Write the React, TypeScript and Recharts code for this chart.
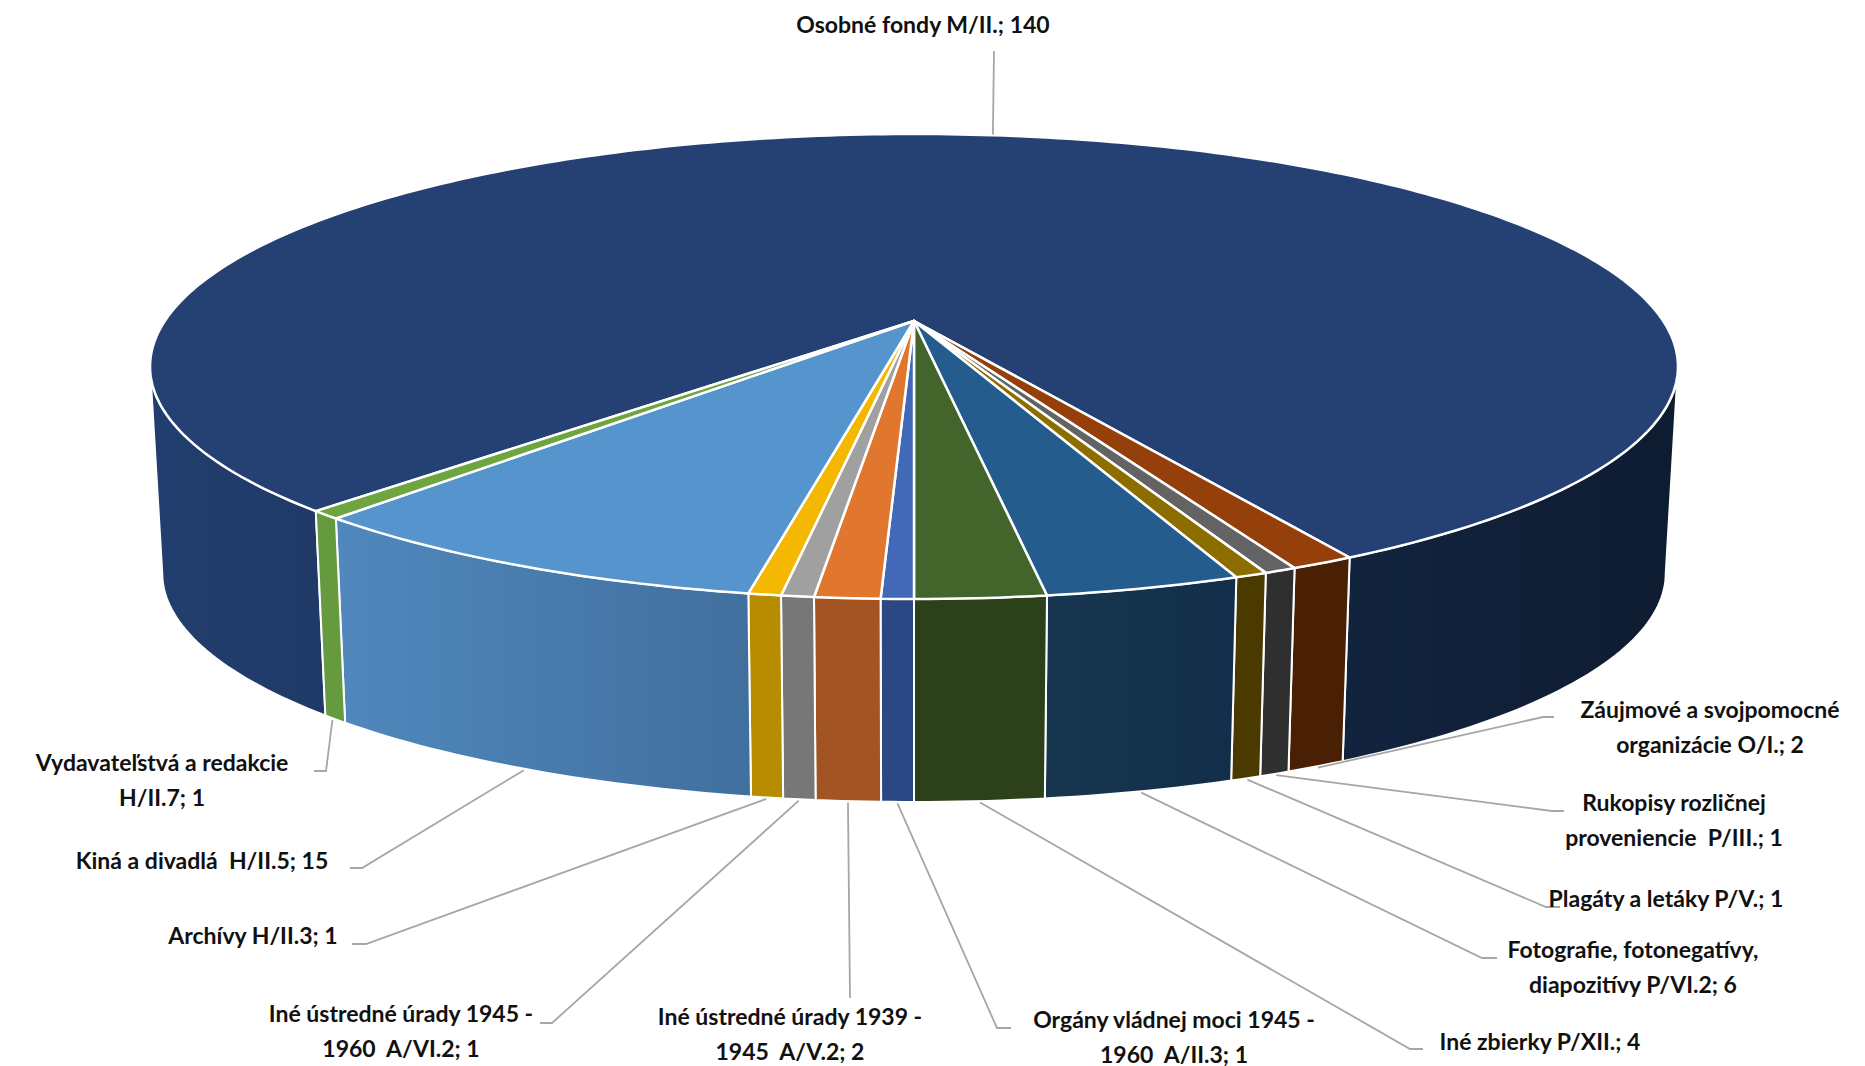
import React from "react";
import { PieChart, Pie } from "recharts";

// names carry their line break, the value is appended on the last line
const categories = [
  "Osobné fondy M/II.",
  "Záujmové a svojpomocné\norganizácie O/I.",
  "Rukopisy rozličnej\nproveniencie  P/III.",
  "Plagáty a letáky P/V.",
  "Fotografie, fotonegatívy,\ndiapozitívy P/VI.2",
  "Iné zbierky P/XII.",
  "Orgány vládnej moci 1945 -\n1960  A/II.3",
  "Iné ústredné úrady 1939 -\n1945  A/V.2",
  "Iné ústredné úrady 1945 -\n1960  A/VI.2",
  "Archívy H/II.3",
  "Kiná a divadlá  H/II.5",
  "Vydavateľstvá a redakcie\nH/II.7",
];
const values = [140, 2, 1, 1, 6, 4, 1, 2, 1, 1, 15, 1];

const chartData = categories.map((name, i) => ({ name, value: values[i] }));

const topColors = ["#254173", "#953f0b", "#636363", "#8c6d00", "#255c8e", "#43652b", "#4169b8", "#e1762e", "#a0a0a0", "#f4b800", "#5594cc", "#6ea540"];
const wallFrom = ["#223e6e", "#4a2005", "#303030", "#4a3a00", "#17364f", "#2c4019", "#2b4885", "#a25522", "#777777", "#b88c00", "#5088bd", "#669a3f"];
const wallTo = ["#0e1c31", "#4a2005", "#2e2e2e", "#4a3a00", "#122e4a", "#2c4019", "#2b4885", "#a25522", "#777777", "#b88c00", "#416f9e", "#669a3f"];

// label centre x, first line centre y, leader points after the start point
const labelLayout = [
  { x: 923, y: 24, leader: [[994, 51]] },
  { x: 1710, y: 709, leader: [[1543, 717], [1554, 717]] },
  { x: 1674, y: 802, leader: [[1552, 811], [1564, 811]] },
  { x: 1666, y: 898, leader: [[1546, 907], [1560, 907]] },
  { x: 1633, y: 949, leader: [[1482, 958], [1497, 958]] },
  { x: 1540, y: 1041, leader: [[1410, 1049], [1423, 1049]] },
  { x: 1174, y: 1019, leader: [[997, 1028], [1011, 1028]] },
  { x: 790, y: 1016, leader: [[850, 998]] },
  { x: 401, y: 1013, leader: [[552, 1023], [540, 1023]] },
  { x: 253, y: 935, leader: [[366, 944], [352, 944]] },
  { x: 202, y: 860, leader: [[362, 868], [350, 868]] },
  { x: 162, y: 762, leader: [[326, 771], [314, 771]] },
];

const CX = 914;
const CY = 321;
const BOTTOM_CY = 528.4;
const BOTTOM_SCALE = 0.984;
const PERSPECTIVE = 0.1957;
const RX = 749.2;
const RY = 223.6;
const RAD = Math.PI / 180;

// angle in degrees (recharts convention) to a point on the tilted disc
const project = (angle: number, r: number, bottom: boolean) => {
  const u = r * Math.cos(angle * RAD);
  const v = -r * Math.sin(angle * RAD);
  const k = 1 - PERSPECTIVE * v;
  const s = bottom ? BOTTOM_SCALE : 1;
  return { x: CX + (s * RX * u) / k, y: (bottom ? BOTTOM_CY : CY) + (s * RY * v) / k };
};

const arcAngles = (from: number, to: number) => {
  const steps = Math.max(2, Math.ceil(Math.abs(from - to) / 1));
  return Array.from({ length: steps + 1 }, (_, i) => from + ((to - from) * i) / steps);
};

const pt = (p: { x: number; y: number }) => `${p.x.toFixed(2)} ${p.y.toFixed(2)}`;

// parts of the rim that face the viewer
const visibleWalls = (hi: number, lo: number) => {
  const parts: number[][] = [];
  for (const k of [-1, 0, 1]) {
    const a = Math.max(lo, -168.7 + 360 * k);
    const b = Math.min(hi, -11.3 + 360 * k);
    if (b > a) parts.push([b, a]);
  }
  return parts;
};

const Slice3D = (props: any) => {
  const i = categories.indexOf(props.name);
  const hi = Math.max(props.startAngle, props.endAngle);
  const lo = Math.min(props.startAngle, props.endAngle);
  const top = arcAngles(hi, lo).map((a) => project(a, 1, false));
  const topPath = `M${CX} ${CY} L` + top.map(pt).join(" L") + " Z";
  const wallPath = visibleWalls(hi, lo)
    .map(([b, a]) => {
      const angles = arcAngles(b, a);
      const upper = angles.map((t) => project(t, 1, false));
      const lower = angles.slice().reverse().map((t) => project(t, 1, true));
      return "M" + upper.concat(lower).map(pt).join(" L") + " Z";
    })
    .join(" ");
  const gradId = `wall-${i}`;
  return (
    <g>
      <defs>
        <linearGradient id={gradId} x1="0" y1="0" x2="1" y2="0">
          <stop offset="0" stopColor={wallFrom[i]} />
          <stop offset="1" stopColor={wallTo[i]} />
        </linearGradient>
      </defs>
      <path d={wallPath} fill={`url(#${gradId})`} stroke="#fff" strokeWidth={2} strokeLinejoin="round" />
      <path d={topPath} fill={topColors[i]} stroke="#fff" strokeWidth={2.5} strokeLinejoin="round" />
    </g>
  );
};

const SliceLabel = (props: any) => {
  const i = categories.indexOf(props.name);
  const { x, y, leader } = labelLayout[i];
  const lines = `${props.name}; ${props.value}`.split("\n");
  // the big slice is labelled from its back edge, the others from the bottom rim
  const start = project(props.midAngle, 1.004, i !== 0);
  const linePts = [[start.x, start.y], ...leader].map((p) => p.join(",")).join(" ");
  return (
    <g>
      <polyline points={linePts} fill="none" stroke="#a6a6a6" strokeWidth={1.8} />
      <text
        textAnchor="middle"
        fontFamily="Lato, sans-serif"
        fontWeight={700}
        fontSize={23}
        fill="#111"
        style={{ whiteSpace: "pre" }}
      >
        {lines.map((line, n) => (
          <tspan key={n} x={x} y={y + n * 34.5} dominantBaseline="central">
            {line}
          </tspan>
        ))}
      </text>
    </g>
  );
};

export default function App() {
  return (
    <div style={{ position: "absolute", left: 0, top: 0, width: 1865, height: 1066, background: "#fff" }}>
      <PieChart width={1865} height={1066} margin={{ top: 0, right: 0, bottom: 0, left: 0 }}>
        <Pie
          data={chartData}
          dataKey="value"
          nameKey="name"
          cx={CX}
          cy={CY}
          outerRadius={400}
          startAngle={226.8}
          endAngle={-133.2}
          paddingAngle={0}
          stroke="none"
          shape={Slice3D}
          label={SliceLabel}
          labelLine={false}
          isAnimationActive={false}
        />
      </PieChart>
    </div>
  );
}
